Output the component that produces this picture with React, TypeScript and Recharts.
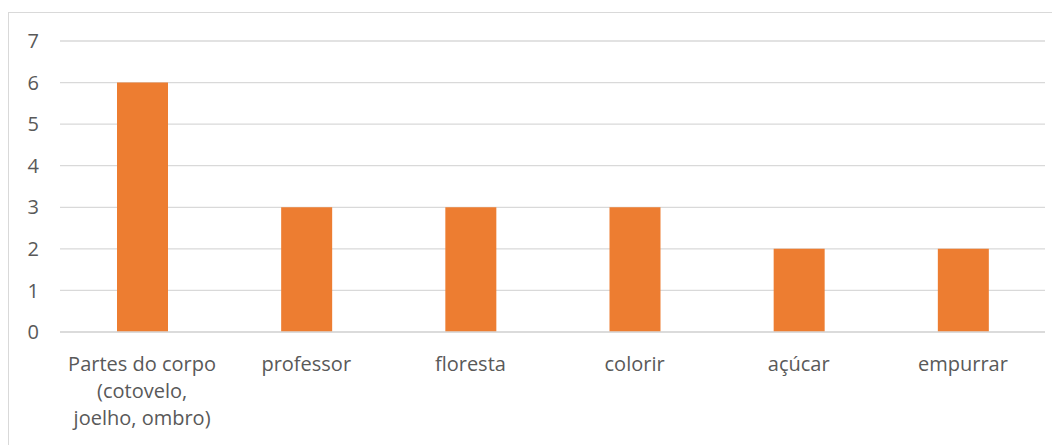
import React from "react";
import { BarChart, Bar, XAxis, YAxis, CartesianGrid } from "recharts";

const categories = [
  "Partes do corpo\n(cotovelo,\njoelho, ombro)",
  "professor",
  "floresta",
  "colorir",
  "açúcar",
  "empurrar",
];
const counts = [6, 3, 3, 3, 2, 2];
const yTicks = [0, 1, 2, 3, 4, 5, 6, 7];

const data = categories.map((c, i) => ({ name: c, value: counts[i] }));

const FONT = "'Open Sans', sans-serif";
const TEXT_COLOR = "#595959";

const XTick = (props: any) => {
  const { x, y, payload } = props;
  const lines = String(payload.value).split("\n");
  return (
    <text
      x={x}
      y={y}
      textAnchor="middle"
      fill={TEXT_COLOR}
      fontSize={20}
      fontFamily={FONT}
    >
      {lines.map((l, i) => (
        <tspan key={i} x={x} dy={i === 0 ? 39 : 27}>
          {l}
        </tspan>
      ))}
    </text>
  );
};

export default function App() {
  return (
    <div
      style={{
        position: "relative",
        width: 1052,
        height: 437,
        overflow: "hidden",
        background: "#fff",
      }}
    >
      <div
        style={{
          position: "absolute",
          left: 0,
          top: 4,
          width: 1100,
          height: 500,
          border: "1px solid #d9d9d9",
          boxSizing: "border-box",
        }}
      />
      <div style={{ position: "absolute", left: 0, top: 0 }}>
        <BarChart
          width={1052}
          height={437}
          data={data}
          margin={{ top: 33, right: 15, bottom: 0, left: 0 }}
        >
          <CartesianGrid vertical={false} stroke="#d9d9d9" strokeWidth={1.3} />
          <XAxis
            dataKey="name"
            tick={<XTick />}
            tickLine={false}
            axisLine={{ stroke: "#d9d9d9", strokeWidth: 1.3 }}
            tickSize={0}
            tickMargin={0}
            interval={0}
            height={113}
          />
          <YAxis
            domain={[0, 7]}
            ticks={yTicks}
            interval={0}
            width={52}
            tickLine={false}
            axisLine={false}
            tickSize={0}
            tickMargin={21}
            tick={{ fill: TEXT_COLOR, fontSize: 20, fontFamily: FONT }}
          />
          <Bar
            dataKey="value"
            fill="#ED7D31"
            barSize={51}
            isAnimationActive={false}
          />
        </BarChart>
      </div>
    </div>
  );
}
